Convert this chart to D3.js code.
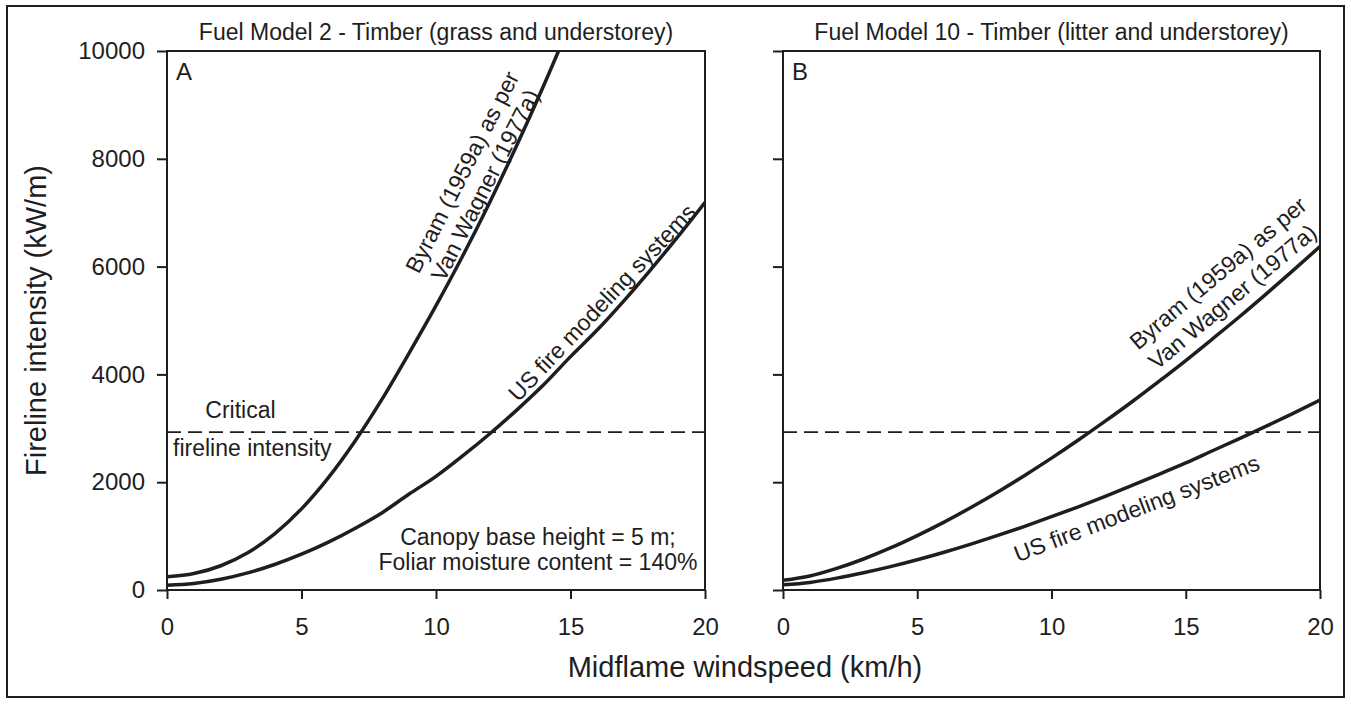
<!DOCTYPE html>
<html>
<head>
<meta charset="utf-8">
<script src="https://cdn.jsdelivr.net/npm/d3@7"></script>
<style>
  html, body { margin: 0; padding: 0; background: #fff; }
  svg text { font-family: "Liberation Sans", Arial, sans-serif; fill: #1e1e1e; }
</style>
</head>
<body>
<svg id="chart" width="1351" height="704"></svg>
<script>
// ---- data ----
const windspeed = [0,1,2,3,4,5,6,7,8,9,10,11,12,13,14,15,16,17,18,19,20];
const windspeedByramA = [0,1,2,3,4,5,6,7,8,9,10,11,12,13,14,15];
const byramA = [245,305,450,690,1040,1505,2085,2770,3545,4395,5275,6205,7195,8245,9355,10525];
const usA    = [90,121,199,317,473,664,888,1147,1435,1780,2108,2491,2899,3338,3807,4330,4827,5374,5955,6560,7191];
const byramB = [180,260,400,575,780,1010,1260,1531,1819,2125,2446,2782,3132,3493,3870,4257,4660,5069,5494,5929,6373];
const usB    = [95,141,220,319,433,561,701,852,1012,1181,1360,1544,1737,1940,2147,2358,2584,2809,3039,3278,3522];
const criticalIntensity = 2930;
const xTicks = [0,5,10,15,20];
const yTicks = [0,2000,4000,6000,8000,10000];
const panelTitles = ["Fuel Model 2 - Timber (grass and understorey)", "Fuel Model 10 - Timber (litter and understorey)"];
const panelLetters = ["A","B"];
const xTitle = "Midflame windspeed (km/h)";
const yTitle = "Fireline intensity (kW/m)";

const svg = d3.select("#chart");
const ink = "#1e1e1e";

// outer frame
svg.append("rect").attr("x",7).attr("y",6).attr("width",1337).attr("height",691)
  .attr("fill","none").attr("stroke",ink).attr("stroke-width",2);

const plotTop = 51, plotBottom = 590;
const panels = [
  {x0:167, x1:705, byram: byramA, byramX: windspeedByramA, us: usA},
  {x0:783, x1:1320, byram: byramB, byramX: windspeed, us: usB}
];

const y = d3.scaleLinear().domain([0,10000]).range([plotBottom, plotTop]);

panels.forEach((p, i) => {
  const x = d3.scaleLinear().domain([0,20]).range([p.x0, p.x1]);
  p.x = x;
  const g = svg.append("g");

  const clipId = "clip"+i;
  svg.append("clipPath").attr("id",clipId).append("rect")
    .attr("x",p.x0).attr("y",plotTop).attr("width",p.x1-p.x0).attr("height",plotBottom-plotTop);

  const yAxis = d3.axisLeft(y).tickValues(yTicks).tickSize(10).tickSizeOuter(0).tickPadding(12)
     .tickFormat(i===0 ? d3.format("d") : () => "");
  const ya = g.append("g").attr("transform",`translate(${p.x0},0)`).call(yAxis);
  const xAxis = d3.axisBottom(x).tickValues(xTicks).tickSize(9).tickSizeOuter(0).tickPadding(19)
     .tickFormat(d3.format("d"));
  const xa = g.append("g").attr("transform",`translate(0,${plotBottom})`).call(xAxis);
  [ya, xa].forEach(a => {
    a.select(".domain").remove();
    a.selectAll(".tick line").attr("stroke",ink).attr("stroke-width",2);
    a.selectAll(".tick text").attr("font-size",24).attr("fill",ink)
      .style("font-family",'"Liberation Sans", Arial, sans-serif');
  });

  g.append("rect").attr("x",p.x0).attr("y",plotTop).attr("width",p.x1-p.x0).attr("height",plotBottom-plotTop)
    .attr("fill","none").attr("stroke",ink).attr("stroke-width",2);

  g.append("line").attr("x1",p.x0).attr("x2",p.x1)
    .attr("y1",y(criticalIntensity)).attr("y2",y(criticalIntensity))
    .attr("stroke",ink).attr("stroke-width",1.8).attr("stroke-dasharray","14,7");

  const line = d3.line().x(d => x(d[0])).y(d => y(d[1])).curve(d3.curveMonotoneX);
  const cg = g.append("g").attr("clip-path",`url(#${clipId})`);
  cg.append("path").datum(d3.zip(p.byramX, p.byram)).attr("d",line)
    .attr("fill","none").attr("stroke",ink).attr("stroke-width",3.5);
  cg.append("path").datum(d3.zip(windspeed, p.us)).attr("d",line)
    .attr("fill","none").attr("stroke",ink).attr("stroke-width",3.5);

  g.append("text").attr("x",(p.x0+p.x1)/2).attr("y",40).attr("text-anchor","middle")
    .attr("font-size",23).text(panelTitles[i]);
  g.append("text").attr("x",p.x0+9).attr("y",plotTop+29).attr("font-size",24).text(panelLetters[i]);
});

function rotLabel(xs, u, v, angle, txt) {
  const px = xs(u), py = y(v);
  svg.append("text").attr("transform",`translate(${px},${py}) rotate(${angle})`)
    .attr("text-anchor","middle").attr("dy","0.35em").attr("font-size",23).text(txt);
}
const xA = panels[0].x, xB = panels[1].x;

rotLabel(xA, 10.97, 7755, -63, "Byram (1959a) as per");
rotLabel(xA, 11.82, 7514, -63, "Van Wagner (1977a)");
rotLabel(xA, 16.17, 5334, -46.6, "US fire modeling systems");
svg.append("text").attr("x",xA(2.73)).attr("y",y(criticalIntensity)-14).attr("text-anchor","middle")
  .attr("font-size",23).text("Critical");
svg.append("text").attr("x",xA(0)+6).attr("y",y(criticalIntensity)+24)
  .attr("font-size",23).text("fireline intensity");
svg.append("text").attr("x",xA(13.79)).attr("y",y(835)).attr("text-anchor","middle")
  .attr("font-size",23).text("Canopy base height = 5 m;");
svg.append("text").attr("x",xA(13.79)).attr("y",y(371)).attr("text-anchor","middle")
  .attr("font-size",23).text("Foliar moisture content = 140%");

rotLabel(xB, 16.2, 5881, -40, "Byram (1959a) as per");
rotLabel(xB, 16.74, 5442, -40, "Van Wagner (1977a)");
rotLabel(xB, 13.17, 1516, -21, "US fire modeling systems");

svg.append("text").attr("x",745).attr("y",677).attr("text-anchor","middle")
  .attr("font-size",29).text(xTitle);
svg.append("text").attr("transform",`translate(46,${(plotTop+plotBottom)/2}) rotate(-90)`)
  .attr("text-anchor","middle").attr("font-size",29).text(yTitle);
</script>
</body>
</html>
